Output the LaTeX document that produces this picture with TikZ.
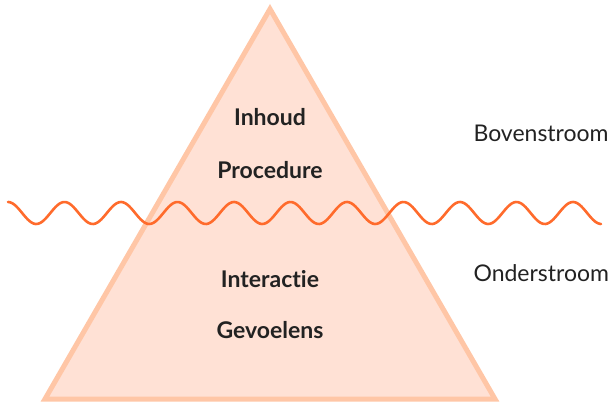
\documentclass[tikz,border=0pt]{standalone}
\usepackage{fontspec}
\setmainfont{Lato}[Ligatures=NoCommon]
\definecolor{ijsrand}{HTML}{FFC6A6}
\definecolor{ijsvul}{HTML}{FFE1D5}
\definecolor{golf}{HTML}{FF6B2C}
\definecolor{tekst}{HTML}{222222}
\tikzset{
    laag/.style={text=tekst, font=\fontsize{23}{26}\selectfont\bfseries},
    stroom/.style={text=tekst, font=\fontsize{23}{26}\selectfont, anchor=west},
}
\begin{document}
\begin{tikzpicture}[x=1pt, y=-1pt,
    declare function={
        x0 = 8; x1 = 601; p = 56.5; ym = 213; amp = 11;
        golfy(\x) = ym - amp*cos(((\x-x0)/p)*360);
    }]
    \useasboundingbox (0,0) rectangle (613,403);

    % ijsberg
    \filldraw[fill=ijsvul, draw=ijsrand, line width=5pt, line join=miter]
        (270,9) -- (45,399) -- (495,399) -- cycle;

    % lagen binnen de ijsberg
    \node[laag] (inhoud) at (270,117) {Inhoud};
    \node[laag] (procedure) at (270,170) {Procedure};
    \node[laag] (interactie) at (270,279) {Interactie};
    \node[laag] (gevoelens) at (270,330) {Gevoelens};

    % waterlijn
    \draw[golf, line width=2.6pt, line cap=round]
        plot[domain=x0:x1, samples=300, smooth] (\x, {golfy(\x)});

    % labels rechts
    \node[stroom] (boven) at (470,133) {Bovenstroom};
    \node[stroom] (onder) at (470,273) {Onderstroom};
\end{tikzpicture}
\end{document}
